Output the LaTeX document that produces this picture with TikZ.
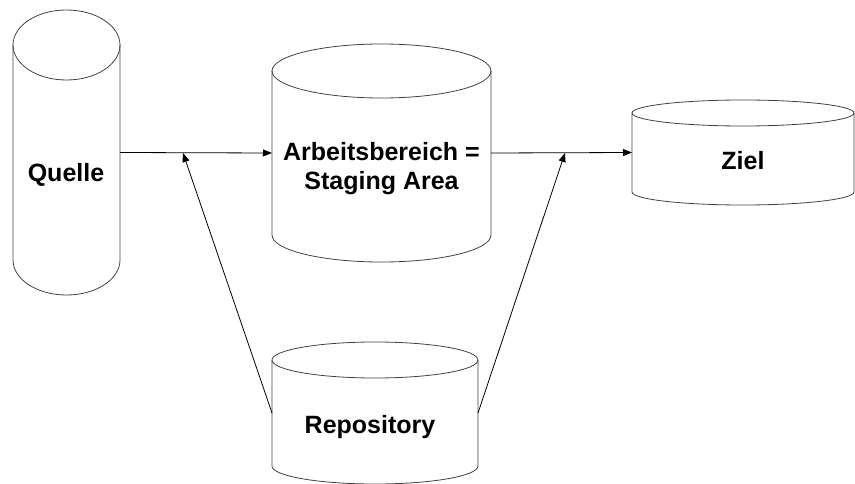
\documentclass[tikz,border=0pt]{standalone}
\usepackage{fontspec}
\setmainfont{Liberation Sans}
\usetikzlibrary{arrows.meta,calc}

\begin{document}
\begin{tikzpicture}[x=1pt,y=-1pt,
  drumline/.style={line width=0.8pt,draw=black!75},
  body/.style={inner sep=0pt,outer sep=0pt,draw=none},
  label/.style={font=\bfseries\fontsize{25}{29}\selectfont,inner sep=0pt,anchor=base,align=center},
  flow/.style={line width=0.8pt,-{Triangle[length=9pt,width=7pt]}}]
\useasboundingbox (0,0) rectangle (855,484);

% cylinder bodies (full extent including caps)
\node[body,minimum width=107pt,minimum height=285pt] (quelle)  at (66.5,152.5) {};
\node[body,minimum width=219pt,minimum height=218pt] (staging) at (381.5,153) {};
\node[body,minimum width=222pt,minimum height=105pt] (ziel)    at (743,152.5) {};
\node[body,minimum width=206pt,minimum height=142pt] (repo)    at (375,413) {};

% outlines: body nodes span the caps, so shrink by the cap radius
\draw[drumline] ($(quelle.north west)+(0,35)$) -- ($(quelle.south west)+(0,-35)$)
  arc[start angle=180,end angle=0,x radius=53.5,y radius=35] -- ($(quelle.north east)+(0,35)$);
\draw[drumline] ($(quelle.north)+(0,35)$) ellipse[x radius=53.5,y radius=35];

\draw[drumline] ($(staging.north west)+(0,27)$) -- ($(staging.south west)+(0,-27)$)
  arc[start angle=180,end angle=0,x radius=109.5,y radius=27] -- ($(staging.north east)+(0,27)$);
\draw[drumline] ($(staging.north)+(0,27)$) ellipse[x radius=109.5,y radius=27];

\draw[drumline] ($(ziel.north west)+(0,13)$) -- ($(ziel.south west)+(0,-13)$)
  arc[start angle=180,end angle=0,x radius=111,y radius=13] -- ($(ziel.north east)+(0,13)$);
\draw[drumline] ($(ziel.north)+(0,13)$) ellipse[x radius=111,y radius=13];

\draw[drumline] ($(repo.north west)+(0,18)$) -- ($(repo.south west)+(0,-18)$)
  arc[start angle=180,end angle=0,x radius=103,y radius=18] -- ($(repo.north east)+(0,18)$);
\draw[drumline] ($(repo.north)+(0,18)$) ellipse[x radius=103,y radius=18];

% texts (base anchor of a two-line node sits on its last line)
\node[label] (quelle-t)  at (66,182) {Quelle};
\node[label] (staging-t) at (381.5,190) {Arbeitsbereich =\\Staging Area};
\node[label] (ziel-t)    at (743,170) {Ziel};
\node[label] (repo-t)    at (370,433) {Repository};

% data flow
\coordinate (join1) at (183,153);
\coordinate (join2) at (565,153);
\draw[flow] (quelle.east) -- (staging.west);
\draw[flow] (staging.east) -- (ziel.west);
\draw[flow] (repo.west) -- (join1);
\draw[flow] (repo.east) -- (join2);
\end{tikzpicture}
\end{document}
